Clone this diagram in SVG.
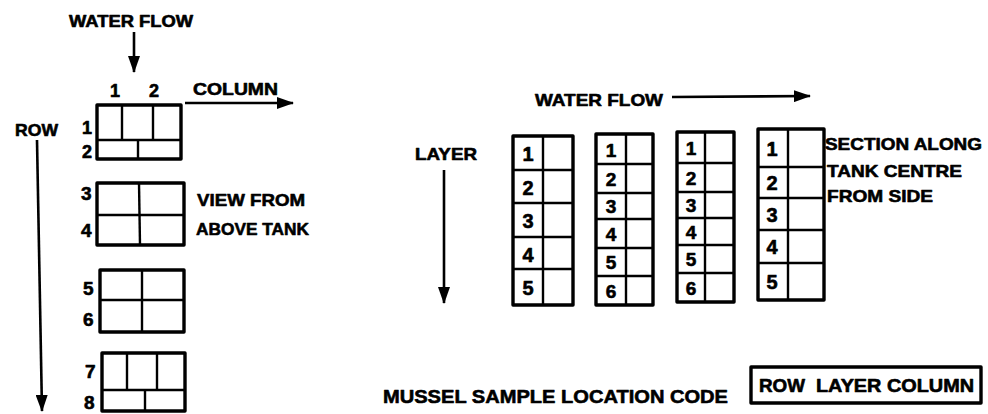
<svg xmlns="http://www.w3.org/2000/svg" width="988" height="414" viewBox="0 0 988 414">
<defs>
<marker id="ah" markerUnits="userSpaceOnUse" markerWidth="17" markerHeight="12" refX="16" refY="6" orient="auto"><path d="M0,0 L17,6 L0,12 z" fill="#000"/></marker>
<style>
.t{font-family:"Liberation Sans",Arial,sans-serif;font-weight:bold;fill:#000;stroke:#000;stroke-width:0.6;stroke-linejoin:round}
.o{fill:none;stroke:#000;stroke-width:3.4;stroke-linejoin:round}
.i{fill:none;stroke:#000;stroke-width:2.4}
.a{fill:none;stroke:#000;stroke-width:2.6;marker-end:url(#ah)}
</style>
</defs>
<rect width="988" height="414" fill="#fff"/>

<g id="connectors">
<line class="a" x1="134" y1="32" x2="134" y2="72"/>
<line class="a" x1="185" y1="103" x2="293" y2="103"/>
<line class="a" x1="37" y1="140" x2="42" y2="411"/>
<line class="a" x1="672" y1="97" x2="810" y2="96"/>
<line class="a" x1="444" y1="170" x2="444" y2="303"/>
</g>

<g id="labels-left">
<text class="t" x="69" y="27" font-size="16" textLength="124" lengthAdjust="spacingAndGlyphs">WATER FLOW</text>
<text class="t" x="110" y="97" font-size="18">1</text>
<text class="t" x="149" y="97" font-size="18">2</text>
<text class="t" x="193" y="95" font-size="17" textLength="85" lengthAdjust="spacingAndGlyphs">COLUMN</text>
<text class="t" x="15" y="136" font-size="17" textLength="43" lengthAdjust="spacingAndGlyphs">ROW</text>
<text class="t" x="197" y="206" font-size="17" textLength="108" lengthAdjust="spacingAndGlyphs">VIEW FROM</text>
<text class="t" x="196" y="235" font-size="17" textLength="113" lengthAdjust="spacingAndGlyphs">ABOVE TANK</text>
</g>

<g id="grid-rows-1-2">
<rect class="o" x="97" y="105" width="84" height="54"/>
<line class="i" x1="97" y1="140" x2="181" y2="140"/>
<line class="i" x1="122" y1="105" x2="122" y2="140"/>
<line class="i" x1="153" y1="105" x2="153" y2="140"/>
<line class="i" x1="138" y1="140" x2="138" y2="159"/>
<text class="t" x="82" y="134" font-size="18">1</text>
<text class="t" x="82" y="158" font-size="18">2</text>
</g>

<g id="grid-rows-3-4">
<rect class="o" x="97" y="183" width="87" height="62"/>
<line class="i" x1="97" y1="215" x2="184" y2="215"/>
<line class="i" x1="139" y1="183" x2="140" y2="245"/>
<text class="t" x="81" y="200" font-size="19">3</text>
<text class="t" x="81" y="237" font-size="19">4</text>
</g>

<g id="grid-rows-5-6">
<rect class="o" x="100" y="270" width="84" height="62"/>
<line class="i" x1="100" y1="300" x2="184" y2="300"/>
<line class="i" x1="142" y1="270" x2="142" y2="332"/>
<text class="t" x="83" y="295" font-size="19">5</text>
<text class="t" x="83" y="326" font-size="19">6</text>
</g>

<g id="grid-rows-7-8">
<rect class="o" x="102" y="353" width="83" height="58"/>
<line class="i" x1="102" y1="390" x2="185" y2="390"/>
<line class="i" x1="127" y1="353" x2="127" y2="390"/>
<line class="i" x1="157" y1="353" x2="157" y2="390"/>
<line class="i" x1="145" y1="390" x2="145" y2="411"/>
<text class="t" x="85" y="378" font-size="19">7</text>
<text class="t" x="84" y="409" font-size="19">8</text>
</g>

<g id="labels-right">
<text class="t" x="535" y="106" font-size="17" textLength="128" lengthAdjust="spacingAndGlyphs">WATER FLOW</text>
<text class="t" x="415" y="160" font-size="17" textLength="62" lengthAdjust="spacingAndGlyphs">LAYER</text>
<text class="t" x="825" y="150" font-size="17" textLength="157" lengthAdjust="spacingAndGlyphs">SECTION ALONG</text>
<text class="t" x="827" y="177" font-size="17" textLength="135" lengthAdjust="spacingAndGlyphs">TANK CENTRE</text>
<text class="t" x="827" y="202" font-size="17" textLength="106" lengthAdjust="spacingAndGlyphs">FROM SIDE</text>
</g>

<g id="section-1">
<rect class="o" x="513" y="136" width="60" height="169"/>
<line class="i" x1="543" y1="136" x2="543" y2="305"/>
<line class="i" x1="513" y1="170" x2="573" y2="170"/>
<line class="i" x1="513" y1="203" x2="573" y2="203"/>
<line class="i" x1="513" y1="237" x2="573" y2="237"/>
<line class="i" x1="513" y1="269" x2="573" y2="269"/>
<g class="t" font-size="20" text-anchor="middle">
<text x="528" y="161">1</text><text x="528" y="195">2</text><text x="528" y="228">3</text><text x="528" y="262">4</text><text x="528" y="295">5</text>
</g>
</g>

<g id="section-2">
<rect class="o" x="596" y="134" width="57" height="171"/>
<line class="i" x1="626" y1="134" x2="626" y2="305"/>
<line class="i" x1="596" y1="164" x2="653" y2="164"/>
<line class="i" x1="596" y1="193" x2="653" y2="193"/>
<line class="i" x1="596" y1="219" x2="653" y2="219"/>
<line class="i" x1="596" y1="248" x2="653" y2="248"/>
<line class="i" x1="596" y1="276" x2="653" y2="276"/>
<g class="t" font-size="19" text-anchor="middle">
<text x="611" y="157">1</text><text x="611" y="186">2</text><text x="611" y="213">3</text><text x="611" y="241">4</text><text x="611" y="269">5</text><text x="611" y="298">6</text>
</g>
</g>

<g id="section-3">
<rect class="o" x="677" y="132" width="57" height="170"/>
<line class="i" x1="705" y1="132" x2="705" y2="302"/>
<line class="i" x1="677" y1="163" x2="734" y2="163"/>
<line class="i" x1="677" y1="192" x2="734" y2="192"/>
<line class="i" x1="677" y1="218" x2="734" y2="218"/>
<line class="i" x1="677" y1="245" x2="734" y2="245"/>
<line class="i" x1="677" y1="273" x2="734" y2="273"/>
<g class="t" font-size="19" text-anchor="middle">
<text x="691" y="155">1</text><text x="691" y="185">2</text><text x="691" y="212">3</text><text x="691" y="239">4</text><text x="691" y="266">5</text><text x="691" y="295">6</text>
</g>
</g>

<g id="section-4">
<rect class="o" x="758" y="129" width="66" height="171"/>
<line class="i" x1="788" y1="129" x2="788" y2="300"/>
<line class="i" x1="758" y1="167" x2="824" y2="167"/>
<line class="i" x1="758" y1="198" x2="824" y2="198"/>
<line class="i" x1="758" y1="230" x2="824" y2="230"/>
<line class="i" x1="758" y1="263" x2="824" y2="263"/>
<g class="t" font-size="20" text-anchor="middle">
<text x="772" y="156">1</text><text x="772" y="190">2</text><text x="772" y="222">3</text><text x="772" y="254">4</text><text x="772" y="289">5</text>
</g>
</g>

<g id="location-code">
<text class="t" x="383" y="403" font-size="19" textLength="345" lengthAdjust="spacingAndGlyphs">MUSSEL SAMPLE LOCATION CODE</text>
<rect class="o" x="751" y="367" width="230" height="36"/>
<text class="t" x="759" y="392" font-size="18" textLength="46" lengthAdjust="spacingAndGlyphs">ROW</text>
<text class="t" x="816" y="392" font-size="18" textLength="158" lengthAdjust="spacingAndGlyphs">LAYER COLUMN</text>
</g>
</svg>
